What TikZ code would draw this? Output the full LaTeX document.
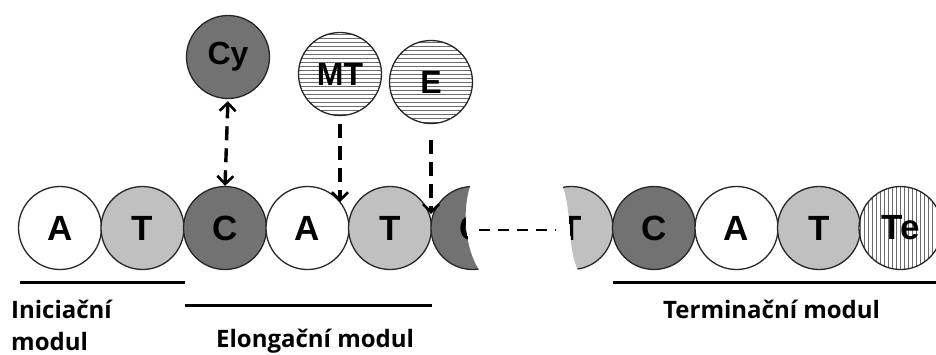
\documentclass[tikz,border=0pt]{standalone}
\usepackage{fontspec}
\setmainfont{Open Sans}
\newfontfamily\letterfont{Liberation Sans}
\usetikzlibrary{arrows.meta,calc}
\definecolor{lightg}{HTML}{C0C0C0}
\definecolor{darkg}{HTML}{727272}
\definecolor{hatchg}{HTML}{6A6A6A}
\tikzset{
  base/.style={circle, draw=black!85, line width=1.3pt, minimum size=83pt, inner sep=0pt,
    font=\letterfont\bfseries\fontsize{35}{35}\selectfont},
  small/.style={base, font=\letterfont\bfseries\fontsize{32}{32}\selectfont},
  wbase/.style={base, fill=white},
  lbase/.style={base, fill=lightg},
  dbase/.style={base, fill=darkg},
  hhatch/.style={path picture={\foreach \i in {-44,-40,...,44}{\draw[hatchg,line width=0.9pt] ($(path picture bounding box.center)+(-46,\i)$) -- ++(92,0);}}},
  vhatch/.style={path picture={\foreach \i in {-44,-40,...,44}{\draw[hatchg,line width=0.9pt] ($(path picture bounding box.center)+(\i,-46)$) -- ++(0,92);}}},
  mytip/.tip={Straight Barb[length=8pt,width=16pt,line width=2.6pt]},
  dasharrow/.style={line width=3.4pt, dash pattern=on 14pt off 8pt, arrows={-mytip}},
  bothdash/.style={dasharrow, arrows={mytip-mytip}},
  thindash/.style={line width=2.4pt, dash pattern=on 11pt off 8pt},
  bar/.style={line width=3pt},
  lbl/.style={font=\bfseries\fontsize{24}{24}\selectfont, inner sep=0pt, anchor=base west},
}
\begin{document}
\begin{tikzpicture}[x=1pt,y=-1pt]
\useasboundingbox (0,0) rectangle (936,354);
% top
\node[small, fill=darkg] (cy) at (228,57) {Cy};
\node[small, fill=white, hhatch] (mt) at (340,74) {MT};
\node[small, fill=white, hhatch] (e) at (431,82) {E};
% left chain
\node[wbase] (a1) at (60,228) {A};
\node[lbase] (t1) at (142.5,228) {T};
\node[dbase] (c1) at (225,228) {C};
\node[wbase] (a2) at (307.5,228) {A};
\node[lbase] (t2) at (390,228) {T};
\begin{scope}
  \clip (420,170) -- (471,170) -- (470,186) .. controls (462,212) and (465,248) .. (479,270) -- (479,290) -- (420,290) -- cycle;
  \node[dbase] (c3) at (472.5,228) {C};
\end{scope}
% right chain
\begin{scope}
  \clip (620,170) -- (563,170) -- (563,187) .. controls (572,212) and (567,248) .. (578,270) -- (578,290) -- (620,290) -- cycle;
  \node[lbase] (t4) at (571.5,228) {T};
\end{scope}
\node[dbase] (c5) at (654,228) {C};
\node[wbase] (a5) at (736.5,228) {A};
\node[lbase] (t5) at (819,228) {T};
\node[base, fill=white, vhatch] (te) at (900.5,228) {Te};
% connectors
\coordinate (cut1) at (479,230);
\coordinate (cut2) at (556,230);
\draw[thindash] (cut1) -- (cut2);
\draw[bothdash, shorten <=2pt] (cy.south) -- (c1.north);
\draw[dasharrow, shorten <=8pt] (mt.south) -- (mt.south |- a2.38);
\coordinate (ej) at ($(t2.east)+(0,-14)$);
\draw[dasharrow, shorten <=16pt] (e.south) -- (e.south |- ej);
% module bars
\coordinate (b1s) at (20,282); \coordinate (b1e) at (185,282);
\coordinate (b2s) at (185,305); \coordinate (b2e) at (432,305);
\coordinate (b3s) at (613,282); \coordinate (b3e) at (936,282);
\draw[bar] (b1s) -- (b1e);
\draw[bar] (b2s) -- (b2e);
\draw[bar] (b3s) -- (b3e);
\node[lbl] (l1) at (11,318) {Iniciační};
\node[lbl] (l2) at (11,350) {modul};
\node[lbl] (l3) at (216,347) {Elongační modul};
\node[lbl] (l4) at (663,318) {Terminační modul};
\end{tikzpicture}
\end{document}
